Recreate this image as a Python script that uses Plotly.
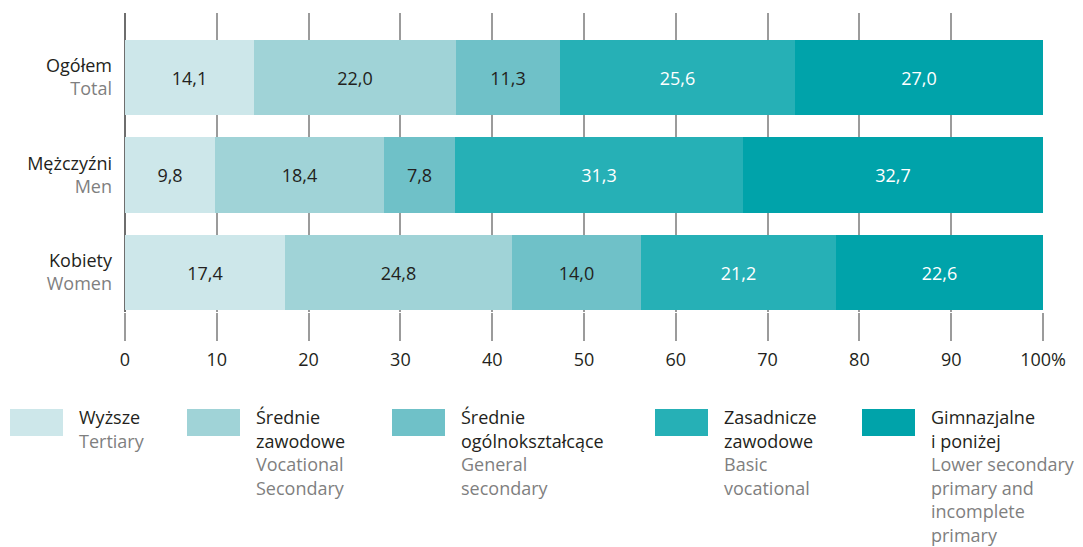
import plotly.graph_objects as go

# Data
groups_pl = ["Ogółem", "Mężczyźni", "Kobiety"]
groups_en = ["Total", "Men", "Women"]

series_pl = [["Wyższe"], ["Średnie", "zawodowe"], ["Średnie", "ogólnokształcące"],
             ["Zasadnicze", "zawodowe"], ["Gimnazjalne", "i poniżej"]]
series_en = [["Tertiary"], ["Vocational", "Secondary"], ["General", "secondary"],
             ["Basic", "vocational"], ["Lower secondary", "primary and", "incomplete", "primary"]]

wyzsze = [14.1, 9.8, 17.4]
srednie_zawodowe = [22.0, 18.4, 24.8]
srednie_ogolne = [11.3, 7.8, 14.0]
zasadnicze = [25.6, 31.3, 21.2]
gimnazjalne = [27.0, 32.7, 22.6]

x_ticks = [0, 10, 20, 30, 40, 50, 60, 70, 80, 90, 100]
x_ticklabels = ["0", "10", "20", "30", "40", "50", "60", "70", "80", "90", "100%"]

# Styling
colors = ["#CDE7EA", "#A0D3D7", "#6FC1C8", "#26B0B6", "#00A3AA"]
label_colors = ["#231F20", "#231F20", "#231F20", "#FFFFFF", "#FFFFFF"]
DARK = "#231F20"
GREY = "#7F7F7F"
FONT = "Open Sans"
FS = 18

W, H = 1083, 547
L, R, T, B = 125, 40, 13, 235
PW, PH = W - L - R, H - T - B


def px_x(px):
    return (px - L) / PW


def px_y(py):
    return (H - B - py) / PH


fig = go.Figure()
all_series = [wyzsze, srednie_zawodowe, srednie_ogolne, zasadnicze, gimnazjalne]
y_pos = list(range(len(groups_pl)))
for vals, col, tcol, name in zip(all_series, colors, label_colors, series_pl):
    fig.add_trace(go.Bar(
        x=vals, y=y_pos, orientation="h", name=" ".join(name),
        marker=dict(color=col, line=dict(width=0)),
        width=0.77,
        texttemplate="%{x:.1f}", textposition="inside", insidetextanchor="middle",
        textangle=0, constraintext="none",
        insidetextfont=dict(family=FONT, size=FS, color=tcol),
        hoverinfo="skip",
    ))

ticktext = [f"{pl}<br><span style='color:{GREY}'>{en}</span>"
            for pl, en in zip(groups_pl, groups_en)]

fig.update_layout(
    width=W, height=H,
    margin=dict(l=L, r=R, t=T, b=B, pad=0),
    barmode="stack", bargap=0,
    separators=", ",
    showlegend=False,
    plot_bgcolor="white", paper_bgcolor="white",
    font=dict(family=FONT, size=FS, color=DARK),
    xaxis=dict(
        range=[0, 100], tickvals=x_ticks, ticktext=x_ticklabels,
        showgrid=True, gridcolor="#9B9B9B", gridwidth=1.5,
        zeroline=True, zerolinecolor="#6E6E6E", zerolinewidth=2,
        ticks="outside", ticklen=28, tickwidth=1.5, tickcolor="#9B9B9B",
        ticklabelstandoff=3,
        tickfont=dict(family=FONT, size=FS, color=DARK),
        showline=False, fixedrange=True,
    ),
    yaxis=dict(
        range=[2.405, -0.66], tickvals=y_pos, ticktext=ticktext,
        showgrid=False, zeroline=False, showline=False, ticks="",
        ticklabelstandoff=12,
        tickfont=dict(family=FONT, size=FS, color=DARK),
        fixedrange=True,
    ),
)

# Legend drawn below the axis: colour swatches followed by bilingual labels
box_left = [10, 187, 392, 655, 862]
box_w, box_top, box_bot = 53, 409, 436
text_gap = 14
line0, line_step = 417, 23.5
for i, col in enumerate(colors):
    x0 = box_left[i]
    fig.add_shape(type="rect", xref="paper", yref="paper",
                  x0=px_x(x0), x1=px_x(x0 + box_w),
                  y0=px_y(box_bot), y1=px_y(box_top),
                  fillcolor=col, line=dict(width=0))
    lines = [(t, DARK) for t in series_pl[i]] + [(t, GREY) for t in series_en[i]]
    for j, (txt, c) in enumerate(lines):
        fig.add_annotation(
            xref="paper", yref="paper",
            x=px_x(x0 + box_w + text_gap), y=px_y(line0 + j * line_step),
            xanchor="left", yanchor="middle", showarrow=False,
            text=txt, font=dict(family=FONT, size=FS, color=c),
        )

fig.write_html("out.html")
